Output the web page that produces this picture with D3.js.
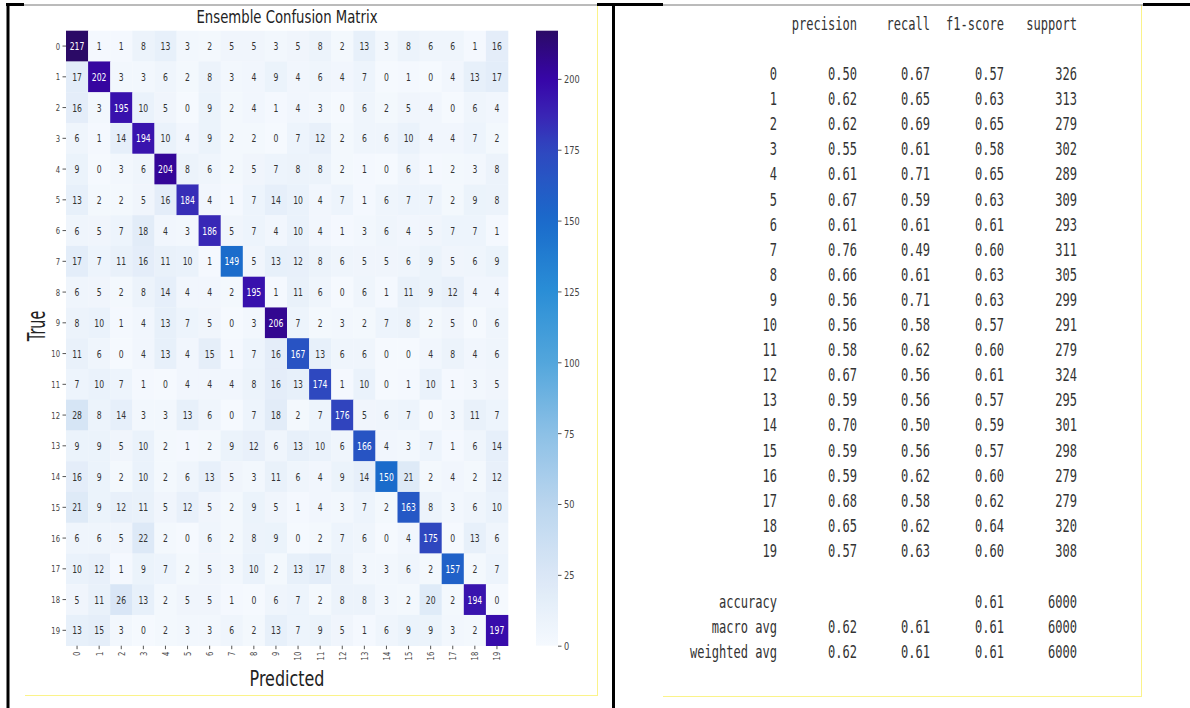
<!DOCTYPE html>
<html>
<head>
<meta charset="utf-8">
<script src="https://cdn.jsdelivr.net/npm/d3@7"></script>
<style>
  body { margin: 0; background: #fff; }
  svg { display: block; }
  .cm-axis text { font-family: "DejaVu Sans", sans-serif; fill: #444; }
  .cm-axis line { stroke: #555; }
  .report text { font-family: "DejaVu Sans Mono", monospace; fill: #333; }
</style>
</head>
<body>
<div id="chart"></div>
<script>
// class labels
var classes = d3.range(20).map(String);

// confusion matrix, rows = true class, cols = predicted class
var confusion = [
  [217, 1, 1, 8, 13, 3, 2, 5, 5, 3, 5, 8, 2, 13, 3, 8, 6, 6, 1, 16],
  [17, 202, 3, 3, 6, 2, 8, 3, 4, 9, 4, 6, 4, 7, 0, 1, 0, 4, 13, 17],
  [16, 3, 195, 10, 5, 0, 9, 2, 4, 1, 4, 3, 0, 6, 2, 5, 4, 0, 6, 4],
  [6, 1, 14, 194, 10, 4, 9, 2, 2, 0, 7, 12, 2, 6, 6, 10, 4, 4, 7, 2],
  [9, 0, 3, 6, 204, 8, 6, 2, 5, 7, 8, 8, 2, 1, 0, 6, 1, 2, 3, 8],
  [13, 2, 2, 5, 16, 184, 4, 1, 7, 14, 10, 4, 7, 1, 6, 7, 7, 2, 9, 8],
  [6, 5, 7, 18, 4, 3, 186, 5, 7, 4, 10, 4, 1, 3, 6, 4, 5, 7, 7, 1],
  [17, 7, 11, 16, 11, 10, 1, 149, 5, 13, 12, 8, 6, 5, 5, 6, 9, 5, 6, 9],
  [6, 5, 2, 8, 14, 4, 4, 2, 195, 1, 11, 6, 0, 6, 1, 11, 9, 12, 4, 4],
  [8, 10, 1, 4, 13, 7, 5, 0, 3, 206, 7, 2, 3, 2, 7, 8, 2, 5, 0, 6],
  [11, 6, 0, 4, 13, 4, 15, 1, 7, 16, 167, 13, 6, 6, 0, 0, 4, 8, 4, 6],
  [7, 10, 7, 1, 0, 4, 4, 4, 8, 16, 13, 174, 1, 10, 0, 1, 10, 1, 3, 5],
  [28, 8, 14, 3, 3, 13, 6, 0, 7, 18, 2, 7, 176, 5, 6, 7, 0, 3, 11, 7],
  [9, 9, 5, 10, 2, 1, 2, 9, 12, 6, 13, 10, 6, 166, 4, 3, 7, 1, 6, 14],
  [16, 9, 2, 10, 2, 6, 13, 5, 3, 11, 6, 4, 9, 14, 150, 21, 2, 4, 2, 12],
  [21, 9, 12, 11, 5, 12, 5, 2, 9, 5, 1, 4, 3, 7, 2, 163, 8, 3, 6, 10],
  [6, 6, 5, 22, 2, 0, 6, 2, 8, 9, 0, 2, 7, 6, 0, 4, 175, 0, 13, 6],
  [10, 12, 1, 9, 7, 2, 5, 3, 10, 2, 13, 17, 8, 3, 3, 6, 2, 157, 2, 7],
  [5, 11, 26, 13, 2, 5, 5, 1, 0, 6, 7, 2, 8, 8, 3, 2, 20, 2, 194, 0],
  [13, 15, 3, 0, 2, 3, 3, 6, 2, 13, 7, 9, 5, 1, 6, 9, 9, 3, 2, 197]
];

var colorbar_ticks = [0, 25, 50, 75, 100, 125, 150, 175, 200];

// classification report
var precision = [0.50, 0.62, 0.62, 0.55, 0.61, 0.67, 0.61, 0.76, 0.66, 0.56,
                 0.56, 0.58, 0.67, 0.59, 0.70, 0.59, 0.59, 0.68, 0.65, 0.57];
var recall = [0.67, 0.65, 0.69, 0.61, 0.71, 0.59, 0.61, 0.49, 0.61, 0.71,
              0.58, 0.62, 0.56, 0.56, 0.50, 0.56, 0.62, 0.58, 0.62, 0.63];
var f1 = [0.57, 0.63, 0.65, 0.58, 0.65, 0.63, 0.61, 0.60, 0.63, 0.63,
          0.57, 0.60, 0.61, 0.57, 0.59, 0.57, 0.60, 0.62, 0.64, 0.60];
var support = [326, 313, 279, 302, 289, 309, 293, 311, 305, 299,
               291, 279, 324, 295, 301, 298, 279, 279, 320, 308];
var summary_labels = ["accuracy", "macro avg", "weighted avg"];
var summary_precision = [null, 0.62, 0.62];
var summary_recall = [null, 0.61, 0.61];
var summary_f1 = [0.61, 0.61, 0.61];
var summary_support = [6000, 6000, 6000];

var W = 1190, H = 708;
var svg = d3.select("#chart").append("svg").attr("width", W).attr("height", H);
svg.append("rect").attr("width", W).attr("height", H).attr("fill", "#fff");

// text squeezed along its reading direction (the screenshot is condensed)
function squish(sel, x, y, sx, rot) {
  return sel.attr("x", 0).attr("y", 0)
    .attr("transform", "translate(" + x + "," + y + ")" + (rot ? " rotate(" + rot + ")" : "") + " scale(" + sx + ",1)");
}

// ---------------- heatmap ----------------
var cm_left = 66, cm_right = 508, cm_top = 30.7, cm_bottom = 645.7;
var vmax = d3.max(confusion, (r) => d3.max(r));

var cm_x = d3.scaleBand().domain(classes).range([cm_left, cm_right]);
var cm_y = d3.scaleBand().domain(classes).range([cm_top, cm_bottom]);

var cm_color = d3.scaleLinear()
  .domain([0, 25, 50, 75, 100, 125, 150, 175, 188, 200, 217])
  .range(["#f5f9fe", "#dae7f6", "#bad5ee", "#8cc0e6", "#53a6dc", "#2a8ed6",
          "#1a6bcb", "#2f47bf", "#3a22b4", "#3705a8", "#2b0a66"])
  .interpolate(d3.interpolateRgb)
  .clamp(true);

var cells = [];
confusion.forEach((row, i) => row.forEach((v, j) => cells.push({ t: classes[i], p: classes[j], v: v })));

var cm_g = svg.append("g");

cm_g.selectAll("rect.cell")
  .data(cells)
  .enter()
  .append("rect")
  .attr("class", "cell")
  .attr("x", (d) => cm_x(d.p))
  .attr("y", (d) => cm_y(d.t))
  .attr("width", cm_x.bandwidth() + 0.3)
  .attr("height", cm_y.bandwidth() + 0.3)
  .attr("fill", (d) => cm_color(d.v));

cm_g.selectAll("text.annot")
  .data(cells)
  .enter()
  .append("text")
  .attr("class", "annot")
  .attr("text-anchor", "middle")
  .attr("dominant-baseline", "central")
  .style("font-family", "DejaVu Sans, sans-serif")
  .style("font-size", "11px")
  .attr("fill", (d) => (d.v > 120 ? "#fff" : "#333"))
  .text((d) => d.v)
  .each(function (d) {
    squish(d3.select(this), cm_x(d.p) + cm_x.bandwidth() / 2, cm_y(d.t) + cm_y.bandwidth() / 2, 0.7);
  });

// y axis (true)
var cm_yaxis = cm_g.append("g")
  .attr("class", "cm-axis")
  .attr("transform", "translate(" + cm_left + ",0)")
  .call(d3.axisLeft(cm_y).tickSize(3.5).tickPadding(2));
cm_yaxis.select(".domain").remove();
cm_yaxis.selectAll("text")
  .style("font-size", "9.5px")
  .attr("dy", null)
  .attr("dominant-baseline", "central")
  .each(function () { squish(d3.select(this), -6, 0, 0.72); });

// x axis (predicted)
var cm_xaxis = cm_g.append("g")
  .attr("class", "cm-axis")
  .attr("transform", "translate(0," + cm_bottom + ")")
  .call(d3.axisBottom(cm_x).tickSize(3.5).tickPadding(2));
cm_xaxis.select(".domain").remove();
cm_xaxis.selectAll("text")
  .style("font-size", "9.5px")
  .attr("dy", null)
  .attr("text-anchor", "end")
  .attr("dominant-baseline", "central")
  .each(function () { squish(d3.select(this), 0, 6, 0.72, -90); });

// titles
squish(cm_g.append("text"), (cm_left + cm_right) / 2, 23, 0.78)
  .attr("text-anchor", "middle")
  .style("font-family", "DejaVu Sans, sans-serif")
  .style("font-size", "17px")
  .attr("fill", "#222")
  .text("Ensemble Confusion Matrix");

squish(cm_g.append("text"), (cm_left + cm_right) / 2, 686, 0.76)
  .attr("text-anchor", "middle")
  .style("font-family", "DejaVu Sans, sans-serif")
  .style("font-size", "21px")
  .attr("fill", "#222")
  .text("Predicted");

squish(cm_g.append("text"), 45, 326, 0.6, -90)
  .attr("text-anchor", "middle")
  .style("font-family", "DejaVu Sans, sans-serif")
  .style("font-size", "24px")
  .attr("fill", "#222")
  .text("True");

// colorbar
var cb_left = 536, cb_width = 22;
var cb_y = d3.scaleLinear().domain([0, vmax]).range([cm_bottom, cm_top]);

var grad = svg.append("defs").append("linearGradient")
  .attr("id", "cb-grad")
  .attr("x1", 0).attr("y1", 1).attr("x2", 0).attr("y2", 0);
grad.selectAll("stop")
  .data(d3.range(0, 1.0001, 0.02))
  .enter()
  .append("stop")
  .attr("offset", (d) => d)
  .attr("stop-color", (d) => cm_color(d * vmax));

cm_g.append("rect")
  .attr("x", cb_left)
  .attr("y", cm_top)
  .attr("width", cb_width)
  .attr("height", cm_bottom - cm_top)
  .attr("fill", "url(#cb-grad)");

var cb_axis = cm_g.append("g")
  .attr("class", "cm-axis")
  .attr("transform", "translate(" + (cb_left + cb_width) + ",0)")
  .call(d3.axisRight(cb_y).tickValues(colorbar_ticks).tickSize(3.5).tickPadding(2));
cb_axis.select(".domain").remove();
cb_axis.selectAll("text")
  .style("font-size", "10.5px")
  .attr("dy", null)
  .attr("dominant-baseline", "central")
  .each(function () { squish(d3.select(this), 6, 0, 0.78); });

// ---------------- classification report ----------------
var rep = svg.append("g").attr("class", "report");
var rep_font = "18px", rep_sx = 0.67;
var col_end = { label: 777, precision: 857, recall: 930, f1: 1004, support: 1077 };

var row_y = d3.scalePoint().domain(classes).range([80, 557]);
var sum_y = d3.scalePoint().domain(summary_labels).range([608, 658]);

function rep_text(x, y, s) {
  squish(rep.append("text"), x, y, rep_sx)
    .attr("text-anchor", "end")
    .style("font-size", rep_font)
    .text(s);
}

rep_text(col_end.precision, 30, "precision");
rep_text(col_end.recall, 30, "recall");
rep_text(col_end.f1, 30, "f1-score");
rep_text(col_end.support, 30, "support");

var f2 = d3.format(".2f");
classes.forEach((c, i) => {
  var y = row_y(c);
  rep_text(col_end.label, y, c);
  rep_text(col_end.precision, y, f2(precision[i]));
  rep_text(col_end.recall, y, f2(recall[i]));
  rep_text(col_end.f1, y, f2(f1[i]));
  rep_text(col_end.support, y, support[i]);
});

summary_labels.forEach((c, i) => {
  var y = sum_y(c);
  rep_text(col_end.label, y, c);
  if (summary_precision[i] != null) rep_text(col_end.precision, y, f2(summary_precision[i]));
  if (summary_recall[i] != null) rep_text(col_end.recall, y, f2(summary_recall[i]));
  rep_text(col_end.f1, y, f2(summary_f1[i]));
  rep_text(col_end.support, y, summary_support[i]);
});

// ---------------- document table borders ----------------
var frame = svg.append("g");
function seg(x1, y1, x2, y2, color, w) {
  frame.append("line")
    .attr("x1", x1).attr("y1", y1).attr("x2", x2).attr("y2", y2)
    .attr("stroke", color).attr("stroke-width", w);
}
// image edges (yellowish)
seg(25, 695.5, 598, 695.5, "#fbf38a", 1);
seg(597.5, 5, 597.5, 696, "#fbf38a", 1);
seg(663, 696.5, 1141, 696.5, "#fbf38a", 1);
seg(1141.5, 5, 1141.5, 697, "#fbf38a", 1);
// thin top line
seg(24, 5, 1143, 5, "#777", 1);
// thick table rules
seg(6, 4.5, 24, 4.5, "#000", 3);
seg(597, 4.5, 663, 4.5, "#000", 3);
seg(1143, 4.5, 1190, 4.5, "#000", 3);
seg(8, 3, 8, 708, "#000", 3);
seg(613.5, 3, 613.5, 708, "#000", 3);
</script>
</body>
</html>
